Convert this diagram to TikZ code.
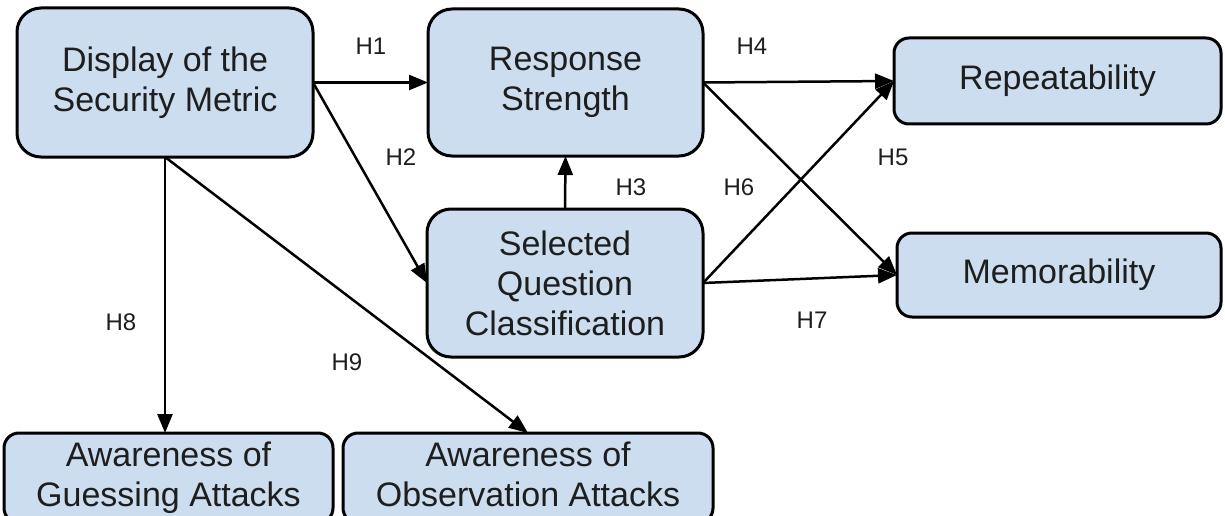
\documentclass[tikz,border=0pt]{standalone}
\usepackage{fontspec}
\setmainfont{Liberation Sans}
\usetikzlibrary{arrows.meta}
\definecolor{boxfill}{RGB}{204,221,240}
\definecolor{inkgray}{RGB}{30,30,30}
\begin{document}
\begin{tikzpicture}[x=1pt,y=-1pt,
  concept/.style={draw=black, line width=3pt, fill=boxfill, text=inkgray,
    align=center, inner sep=0pt, outer sep=0pt,
    font=\fontsize{34}{40}\selectfont},
  link/.style={line width=2.5pt, -{Triangle[length=19pt,width=15pt]}},
  hyp/.style={text=inkgray, inner sep=0pt, font=\fontsize{24}{28}\selectfont}]
\useasboundingbox (0,0) rectangle (1225,516);
\clip (0,0) rectangle (1225,516);
\fill[white] (0,0) rectangle (1225,516);

% constructs
\node[concept, minimum width=296pt, minimum height=149pt, rounded corners=24pt]
  (display) at (165,82.5) {Display of the\\Security Metric};
\node[concept, minimum width=275pt, minimum height=147pt, rounded corners=24pt]
  (response) at (565.5,82.5) {Response\\Strength};
\node[concept, minimum width=276pt, minimum height=148pt, rounded corners=24pt]
  (selected) at (565,283) {Selected\\Question\\Classification};
\node[concept, minimum width=327pt, minimum height=86pt, rounded corners=15pt]
  (repeat) at (1057.5,81) {Repeatability};
\node[concept, minimum width=324pt, minimum height=84pt, rounded corners=15pt]
  (memo) at (1059,275) {Memorability};
\node[concept, minimum width=329pt, minimum height=90pt, rounded corners=15pt]
  (guess) at (168.5,478) {Awareness of\\Guessing Attacks};
\node[concept, minimum width=370pt, minimum height=90pt, rounded corners=15pt]
  (observe) at (528,478) {Awareness of\\Observation Attacks\vphantom{g}};

% hypothesised paths
\draw[link] (display.east) -- (response.west);
\draw[link] (display.east) -- (selected.west);
\draw[link] (selected.north) -- (response.south);
\draw[link] (response.east) -- (repeat.west);
\draw[link] (response.east) -- (memo.west);
\draw[link] (selected.east) -- (repeat.west);
\draw[link] (selected.east) -- (memo.west);
\draw[link] (display.south) -- (display.south |- guess.north);
\draw[link] (display.south) -- (observe.north);

% path labels
\node[hyp] (h1) at (371,46) {H1};
\node[hyp] (h2) at (401,157) {H2};
\node[hyp] (h3) at (631,187) {H3};
\node[hyp] (h4) at (752,46) {H4};
\node[hyp] (h5) at (893,157) {H5};
\node[hyp] (h6) at (739,187) {H6};
\node[hyp] (h7) at (812,320) {H7};
\node[hyp] (h8) at (121,322) {H8};
\node[hyp] (h9) at (347,362) {H9};
\end{tikzpicture}
\end{document}
